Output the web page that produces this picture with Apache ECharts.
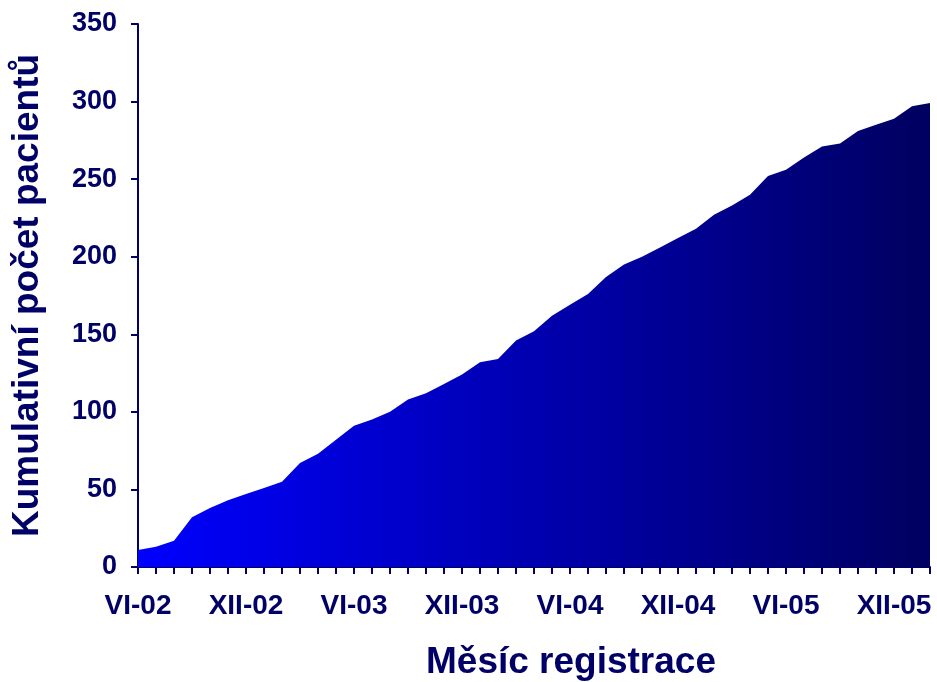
<!DOCTYPE html>
<html>
<head>
<meta charset="utf-8">
<script src="https://cdn.jsdelivr.net/npm/echarts@6/dist/echarts.min.js"></script>
<style>html,body{margin:0;padding:0;background:#fff}#c{width:937px;height:682px}</style>
</head>
<body>
<div id="c"></div>
<script>
const categories = [
 'VI-02','VII-02','VIII-02','IX-02','X-02','XI-02','XII-02',
 'I-03','II-03','III-03','IV-03','V-03','VI-03','VII-03','VIII-03','IX-03','X-03','XI-03','XII-03',
 'I-04','II-04','III-04','IV-04','V-04','VI-04','VII-04','VIII-04','IX-04','X-04','XI-04','XII-04',
 'I-05','II-05','III-05','IV-05','V-05','VI-05','VII-05','VIII-05','IX-05','X-05','XI-05','XII-05',
 'I-06','II-06'
];
const cumulativePatients = [
 11, 13, 17, 32, 38, 43, 47, 51, 55, 67, 73, 82, 91, 95, 100, 108, 112, 118, 124,
 132, 134, 146, 152, 162, 169, 176, 187, 195, 200, 206, 212, 218, 227, 233, 240,
 252, 256, 264, 271, 273, 281, 285, 289, 297, 299
];
const yTicks = [0, 50, 100, 150, 200, 250, 300, 350];

const navy = '#000066';
const font = 'Liberation Sans, Arial, sans-serif';
const chart = echarts.init(document.getElementById('c'), null, {renderer: 'canvas'});
chart.setOption({
  animation: false,
  grid: {left: 138, right: 7, top: 24, bottom: 115, containLabel: false, outerBoundsMode: 'none'},
  xAxis: {
    type: 'category',
    data: categories,
    boundaryGap: false,
    name: 'Měsíc registrace',
    nameLocation: 'middle',
    nameGap: 77,
    nameTextStyle: {color: navy, fontSize: 37, fontWeight: 'bold', fontFamily: font, padding: [0, 0, 0, 74]},
    axisLine: {lineStyle: {color: navy, width: 2}},
    axisTick: {show: true, interval: 0, length: 7, lineStyle: {color: navy, width: 2}},
    axisLabel: {
      interval: 5, margin: 25, color: navy, fontSize: 28, fontWeight: 'bold', fontFamily: font
    },
    splitLine: {show: false}
  },
  yAxis: {
    type: 'value',
    min: yTicks[0],
    max: yTicks[yTicks.length - 1],
    interval: 50,
    name: 'Kumulativní počet pacientů',
    nameLocation: 'middle',
    nameGap: 92,
    nameRotate: 90,
    nameTextStyle: {color: navy, fontSize: 37, fontWeight: 'bold', fontFamily: font},
    axisLine: {show: true, lineStyle: {color: navy, width: 2}},
    axisTick: {show: true, length: 7, lineStyle: {color: navy, width: 2}},
    axisLabel: {margin: 21, color: navy, fontSize: 27, fontWeight: 'bold', fontFamily: font},
    splitLine: {show: false}
  },
  series: [{
    type: 'line',
    data: cumulativePatients,
    symbol: 'none',
    lineStyle: {width: 0},
    areaStyle: {
      opacity: 1,
      color: new echarts.graphic.LinearGradient(0, 0, 1, 0, [
        {offset: 0, color: '#0000ff'},
        {offset: 1, color: '#000060'}
      ])
    }
  }]
});
</script>
</body>
</html>
